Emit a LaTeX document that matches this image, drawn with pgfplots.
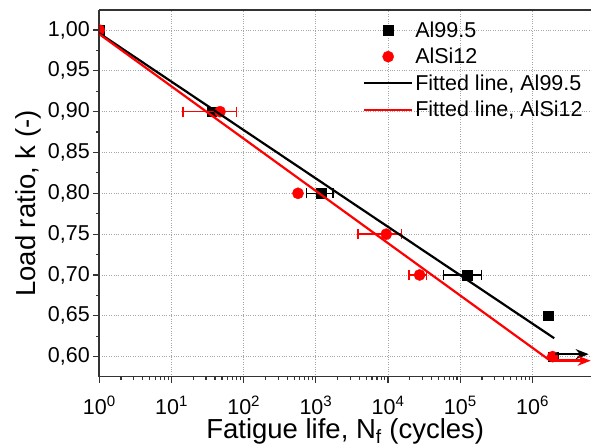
\documentclass[border=0pt]{standalone}
\usepackage{fontspec}
\setmainfont{Liberation Sans}
\usepackage{pgfplots}
\pgfplotsset{compat=1.18}
\usetikzlibrary{arrows.meta}
\pgfplotsset{
  markleg/.style={legend image code/.code={\draw[##1] plot coordinates {(24pt,0pt)};}},
  lineleg/.style={legend image code/.code={\draw[##1] (0pt,0pt) -- (48pt,0pt);}},
}

\begin{document}
\begin{tikzpicture}
\begin{axis}[
  name=ax,
  scale only axis, width=492pt, height=366.7pt,
  xmode=log, xmin=1, xmax=6.5e6,
  ymin=0.5755, ymax=1.0245,
  axis y line*=left,
  tick pos=left, tick align=outside,
  major tick length=6pt, minor tick length=3.5pt,
  tick style={line width=1.2pt, black!80},
  axis line style={line width=1.6pt, black!80},
  xtick={1,10,100,1000,10000,100000,1000000},
  xticklabels={10\textsuperscript{0},10\textsuperscript{1},10\textsuperscript{2},10\textsuperscript{3},10\textsuperscript{4},10\textsuperscript{5},10\textsuperscript{6}},
  ytick={0.60,0.65,0.70,0.75,0.80,0.85,0.90,0.95,1.00},
  minor y tick num=1,
  yticklabel style={/pgf/number format/.cd, fixed, fixed zerofill, precision=2, use comma, assume math mode=true},
  xticklabel style={inner sep=1pt, yshift=-12.5pt},
  xmajorgrids, ymajorgrids,
  grid style={dotted, gray!70, line width=0.8pt},
  tick label style={font=\fontsize{21.5}{25}\selectfont},
  label style={font=\fontsize{27.5}{32}\selectfont},
  xlabel={Fatigue life, N\textsubscript{f} (cycles)},
  xlabel style={at={(axis description cs:0.5,0)}, anchor=base, yshift=-61.5pt, inner sep=1pt},
  ylabel={Load ratio, k (-)},
  ylabel style={at={(ticklabel cs:0.472)}},
  clip marker paths=true,
  legend style={draw=none, fill=none, at={(axis description cs:0.993,0.980)}, anchor=north east,
    font=\fontsize{21.5}{25}\selectfont, legend cell align=left, row sep=5.5pt},
  error bars/error bar style={line width=1.3pt},
  error bars/error mark options={line width=1.3pt, mark size=5pt, rotate=90},
]
% measured points
\addplot[only marks, mark=square*, mark size=4.8pt, black, markleg,
  error bars/.cd, x dir=both, x explicit]
  coordinates {
  (1,1.00)
  (36,0.90)
  (1190,0.80) += (540,0) -= (450,0)
  (124000,0.70) += (71000,0) -= (65500,0)
  (1.64e6,0.65)
  (1.94e6,0.60)
};
\addlegendentry{Al99.5}
\addplot[only marks, mark=*, mark size=5.6pt, red, markleg,
  error bars/.cd, x dir=both, x explicit]
  coordinates {
  (1,1.00)
  (47,0.90) += (32,0) -= (32.5,0)
  (565,0.80)
  (9440,0.75) += (5760,0) -= (5620,0)
  (27300,0.70) += (6400,0) -= (7900,0)
  (1.9e6,0.60)
};
\addlegendentry{AlSi12}
% fitted lines
\addplot[black, line width=2.2pt, no marks, lineleg]
  coordinates {(1,0.996) (2.0e6,0.6225)};
\addlegendentry{Fitted line, Al99.5}
\addplot[red, line width=2.2pt, no marks, lineleg]
  coordinates {(1,0.995) (1.7e6,0.596)};
\addlegendentry{Fitted line, AlSi12}
% run-outs
\addplot[black, line width=2pt, -{Stealth[length=13pt,width=10pt]}, forget plot]
  coordinates {(2.05e6,0.603) (6.0e6,0.603)};
\addplot[red, line width=2.6pt, -{Stealth[length=13pt,width=10pt]}, forget plot]
  coordinates {(2.05e6,0.595) (6.4e6,0.595)};
\end{axis}
\path ([xshift=-99.3pt,yshift=-71.3pt]ax.south west) rectangle ([xshift=0.5pt,yshift=10pt]ax.north east);
\end{tikzpicture}
\end{document}
